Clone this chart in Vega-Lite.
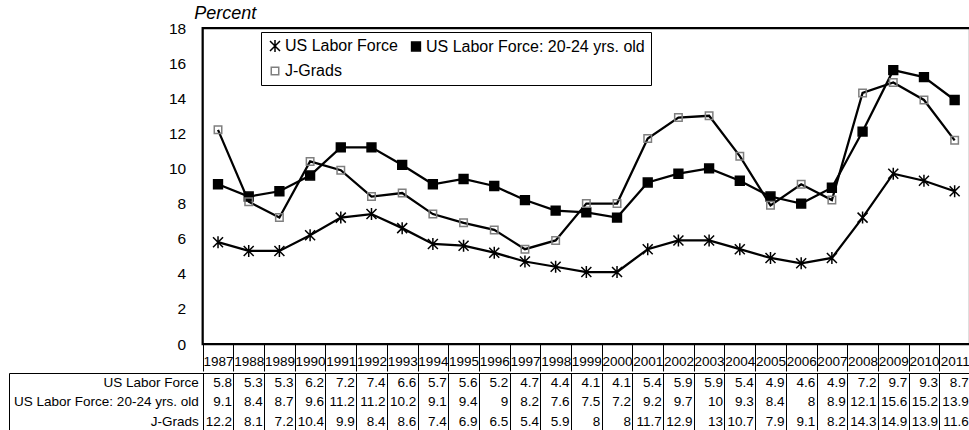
{
  "$schema": "https://vega.github.io/schema/vega-lite/v6.json",
  "padding": {"left": 8, "top": 4, "right": 0, "bottom": 0},
  "spacing": 0,
  "config": {
    "font": "Liberation Sans",
    "view": {"stroke": null},
    "axis": {"labelColor": "black", "titleColor": "black"},
    "legend": {"labelColor": "black"}
  },
  "datasets": {
    "d": [
      {"year": 1987, "series": "US Labor Force", "value": 5.8},
      {"year": 1988, "series": "US Labor Force", "value": 5.3},
      {"year": 1989, "series": "US Labor Force", "value": 5.3},
      {"year": 1990, "series": "US Labor Force", "value": 6.2},
      {"year": 1991, "series": "US Labor Force", "value": 7.2},
      {"year": 1992, "series": "US Labor Force", "value": 7.4},
      {"year": 1993, "series": "US Labor Force", "value": 6.6},
      {"year": 1994, "series": "US Labor Force", "value": 5.7},
      {"year": 1995, "series": "US Labor Force", "value": 5.6},
      {"year": 1996, "series": "US Labor Force", "value": 5.2},
      {"year": 1997, "series": "US Labor Force", "value": 4.7},
      {"year": 1998, "series": "US Labor Force", "value": 4.4},
      {"year": 1999, "series": "US Labor Force", "value": 4.1},
      {"year": 2000, "series": "US Labor Force", "value": 4.1},
      {"year": 2001, "series": "US Labor Force", "value": 5.4},
      {"year": 2002, "series": "US Labor Force", "value": 5.9},
      {"year": 2003, "series": "US Labor Force", "value": 5.9},
      {"year": 2004, "series": "US Labor Force", "value": 5.4},
      {"year": 2005, "series": "US Labor Force", "value": 4.9},
      {"year": 2006, "series": "US Labor Force", "value": 4.6},
      {"year": 2007, "series": "US Labor Force", "value": 4.9},
      {"year": 2008, "series": "US Labor Force", "value": 7.2},
      {"year": 2009, "series": "US Labor Force", "value": 9.7},
      {"year": 2010, "series": "US Labor Force", "value": 9.3},
      {"year": 2011, "series": "US Labor Force", "value": 8.7},
      {"year": 1987, "series": "US Labor Force: 20-24 yrs. old", "value": 9.1},
      {"year": 1988, "series": "US Labor Force: 20-24 yrs. old", "value": 8.4},
      {"year": 1989, "series": "US Labor Force: 20-24 yrs. old", "value": 8.7},
      {"year": 1990, "series": "US Labor Force: 20-24 yrs. old", "value": 9.6},
      {"year": 1991, "series": "US Labor Force: 20-24 yrs. old", "value": 11.2},
      {"year": 1992, "series": "US Labor Force: 20-24 yrs. old", "value": 11.2},
      {"year": 1993, "series": "US Labor Force: 20-24 yrs. old", "value": 10.2},
      {"year": 1994, "series": "US Labor Force: 20-24 yrs. old", "value": 9.1},
      {"year": 1995, "series": "US Labor Force: 20-24 yrs. old", "value": 9.4},
      {"year": 1996, "series": "US Labor Force: 20-24 yrs. old", "value": 9},
      {"year": 1997, "series": "US Labor Force: 20-24 yrs. old", "value": 8.2},
      {"year": 1998, "series": "US Labor Force: 20-24 yrs. old", "value": 7.6},
      {"year": 1999, "series": "US Labor Force: 20-24 yrs. old", "value": 7.5},
      {"year": 2000, "series": "US Labor Force: 20-24 yrs. old", "value": 7.2},
      {"year": 2001, "series": "US Labor Force: 20-24 yrs. old", "value": 9.2},
      {"year": 2002, "series": "US Labor Force: 20-24 yrs. old", "value": 9.7},
      {"year": 2003, "series": "US Labor Force: 20-24 yrs. old", "value": 10},
      {"year": 2004, "series": "US Labor Force: 20-24 yrs. old", "value": 9.3},
      {"year": 2005, "series": "US Labor Force: 20-24 yrs. old", "value": 8.4},
      {"year": 2006, "series": "US Labor Force: 20-24 yrs. old", "value": 8},
      {"year": 2007, "series": "US Labor Force: 20-24 yrs. old", "value": 8.9},
      {"year": 2008, "series": "US Labor Force: 20-24 yrs. old", "value": 12.1},
      {"year": 2009, "series": "US Labor Force: 20-24 yrs. old", "value": 15.6},
      {"year": 2010, "series": "US Labor Force: 20-24 yrs. old", "value": 15.2},
      {"year": 2011, "series": "US Labor Force: 20-24 yrs. old", "value": 13.9},
      {"year": 1987, "series": "J-Grads", "value": 12.2},
      {"year": 1988, "series": "J-Grads", "value": 8.1},
      {"year": 1989, "series": "J-Grads", "value": 7.2},
      {"year": 1990, "series": "J-Grads", "value": 10.4},
      {"year": 1991, "series": "J-Grads", "value": 9.9},
      {"year": 1992, "series": "J-Grads", "value": 8.4},
      {"year": 1993, "series": "J-Grads", "value": 8.6},
      {"year": 1994, "series": "J-Grads", "value": 7.4},
      {"year": 1995, "series": "J-Grads", "value": 6.9},
      {"year": 1996, "series": "J-Grads", "value": 6.5},
      {"year": 1997, "series": "J-Grads", "value": 5.4},
      {"year": 1998, "series": "J-Grads", "value": 5.9},
      {"year": 1999, "series": "J-Grads", "value": 8},
      {"year": 2000, "series": "J-Grads", "value": 8},
      {"year": 2001, "series": "J-Grads", "value": 11.7},
      {"year": 2002, "series": "J-Grads", "value": 12.9},
      {"year": 2003, "series": "J-Grads", "value": 13},
      {"year": 2004, "series": "J-Grads", "value": 10.7},
      {"year": 2005, "series": "J-Grads", "value": 7.9},
      {"year": 2006, "series": "J-Grads", "value": 9.1},
      {"year": 2007, "series": "J-Grads", "value": 8.2},
      {"year": 2008, "series": "J-Grads", "value": 14.3},
      {"year": 2009, "series": "J-Grads", "value": 14.9},
      {"year": 2010, "series": "J-Grads", "value": 13.9},
      {"year": 2011, "series": "J-Grads", "value": 11.6}
    ],
    "rows": [
      {"series": "US Labor Force"},
      {"series": "US Labor Force: 20-24 yrs. old"},
      {"series": "J-Grads"}
    ]
  },
  "vconcat": [
    {
      "width": 961,
      "height": 316,
      "layer": [
        {
          "data": {"values": [{}]},
          "mark": {"type": "rect", "fill": null, "stroke": "black", "strokeWidth": 2.25},
          "encoding": {
            "x": {"datum": 1986.5, "type": "quantitative"},
            "x2": {"datum": 2011.5},
            "y": {"datum": 0, "type": "quantitative"},
            "y2": {"datum": 18}
          }
        },
        {
          "data": {"name": "d"},
          "mark": {"type": "line", "color": "black", "strokeWidth": 2.25},
          "encoding": {
            "x": {"field": "year", "type": "quantitative"},
            "y": {"field": "value", "type": "quantitative"},
            "detail": {"field": "series"}
          }
        },
        {
          "data": {"name": "d"},
          "mark": {"type": "point", "opacity": 1, "strokeWidth": 1.5},
          "encoding": {
            "x": {"field": "year", "type": "quantitative"},
            "y": {"field": "value", "type": "quantitative"},
            "shape": {
              "field": "series", "type": "nominal",
              "scale": {
                "domain": ["US Labor Force", "US Labor Force: 20-24 yrs. old", "J-Grads"],
                "range": ["M-1,-1L1,1M-1,1L1,-1M0,-1.2L0,1.2", "square", "square"]
              },
              "legend": {
                "title": null, "orient": "none", "legendX": 252, "legendY": 4,
                "columns": 2, "direction": "horizontal",
                "strokeColor": "black", "padding": 6, "fillColor": "white",
                "labelFontSize": 16, "labelColor": "black", "labelOffset": 2,
                "columnPadding": 10, "rowPadding": 8, "symbolStrokeWidth": 1.5,
                "labelLimit": 400
              }
            },
            "fill": {
              "field": "series", "type": "nominal",
              "scale": {
                "domain": ["US Labor Force", "US Labor Force: 20-24 yrs. old", "J-Grads"],
                "range": ["transparent", "black", "transparent"]
              }
            },
            "stroke": {
              "field": "series", "type": "nominal",
              "scale": {
                "domain": ["US Labor Force", "US Labor Force: 20-24 yrs. old", "J-Grads"],
                "range": ["black", "black", "#7f7f7f"]
              }
            },
            "size": {
              "field": "series", "type": "nominal",
              "scale": {
                "domain": ["US Labor Force", "US Labor Force: 20-24 yrs. old", "J-Grads"],
                "range": [100, 56, 90]
              }
            }
          }
        }
      ],
      "encoding": {
        "x": {
          "type": "quantitative",
          "scale": {"domain": [1980.19, 2011.5], "nice": false, "zero": false},
          "axis": {
            "orient": "bottom",
            "values": [1986.5, 1987.5, 1988.5, 1989.5, 1990.5, 1991.5, 1992.5, 1993.5, 1994.5, 1995.5, 1996.5, 1997.5, 1998.5, 1999.5, 2000.5, 2001.5, 2002.5, 2003.5, 2004.5, 2005.5, 2006.5, 2007.5, 2008.5, 2009.5, 2010.5, 2011.5],
            "labelExpr": "datum.value < 2011 ? format(datum.value + 0.5, 'd') : ''",
            "labelOffset": 15.35, "labelAlign": "center", "labelBaseline": "middle",
            "labelPadding": -10, "labelFontSize": 13.5, "labelOverlap": false,
            "labelFlush": false, "labelBound": false,
            "ticks": true, "tickSize": 27, "tickColor": "black", "tickWidth": 1,
            "domain": false, "grid": false, "title": null
          }
        },
        "y": {
          "type": "quantitative",
          "scale": {"domain": [0, 18], "nice": false, "zero": true},
          "axis": {
            "offset": -193.7,
            "values": [0, 2, 4, 6, 8, 10, 12, 14, 16, 18],
            "domain": false, "ticks": false, "grid": false,
            "labelFontSize": 15.5, "labelPadding": 17,
            "title": "Percent", "titleAngle": 0, "titleFontStyle": "italic", "titleFontWeight": "normal",
            "titleFontSize": 18, "titleAlign": "left", "titleBaseline": "middle",
            "titleX": -9, "titleY": -15
          }
        }
      }
    },
    {
      "width": 961,
      "height": 58.5,
      "view": {"stroke": "black", "strokeWidth": 1},
      "layer": [
        {
          "data": {"name": "d"},
          "mark": {"type": "text", "fontSize": 13.5, "align": "right", "dx": 14, "baseline": "middle", "color": "black"},
          "encoding": {
            "x": {"field": "year", "type": "quantitative"},
            "y": {"field": "series", "type": "nominal"},
            "text": {"field": "value", "type": "nominal"}
          }
        },
        {
          "data": {"name": "rows"},
          "mark": {"type": "text", "fontSize": 13.5, "align": "right", "dx": -4, "baseline": "middle", "color": "black"},
          "encoding": {
            "x": {"datum": 1986.5, "type": "quantitative"},
            "y": {"field": "series", "type": "nominal"},
            "text": {"field": "series", "type": "nominal"}
          }
        }
      ],
      "encoding": {
        "x": {
          "type": "quantitative",
          "scale": {"domain": [1980.19, 2011.5], "nice": false, "zero": false},
          "axis": {
            "orient": "top",
            "values": [1986.5, 1987.5, 1988.5, 1989.5, 1990.5, 1991.5, 1992.5, 1993.5, 1994.5, 1995.5, 1996.5, 1997.5, 1998.5, 1999.5, 2000.5, 2001.5, 2002.5, 2003.5, 2004.5, 2005.5, 2006.5, 2007.5, 2008.5, 2009.5, 2010.5, 2011.5],
            "grid": true, "gridColor": "black", "gridWidth": 1, "gridOpacity": 1,
            "labels": false, "ticks": false, "domain": false, "title": null
          }
        },
        "y": {
          "type": "nominal",
          "scale": {
            "type": "band",
            "domain": ["US Labor Force", "US Labor Force: 20-24 yrs. old", "J-Grads"],
            "paddingInner": 0, "paddingOuter": 0
          },
          "axis": null
        }
      }
    }
  ]
}
